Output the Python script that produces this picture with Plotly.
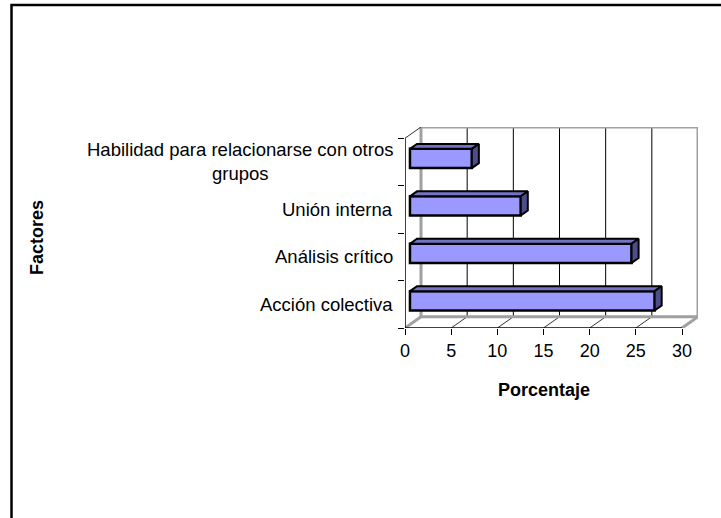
import plotly.graph_objects as go

# ---- data ----
categories = ["Acción colectiva", "Análisis crítico", "Unión interna",
              "Habilidad para relacionarse con otros<br>grupos"]
values = [26.5, 24.0, 12.0, 6.7]
x_ticks = [0, 5, 10, 15, 20, 25, 30]
x_title = "Porcentaje"
y_title = "Factores"

# ---- 3D look parameters (axis units) ----
DX, DY = 1.733, 0.237          # depth vector of the chart box
F0, F1 = 0.31, 0.75            # bar front / back position in depth
HALF = 0.203                   # half bar thickness
XMAX = 30

FONT = "Arial, Liberation Sans, sans-serif"
W, H = 721, 518
L, T = 405, 127
PW, PH = 293, 201
R, B = W - L - PW, H - T - PH


def px(p):
    return (p - L) / PW


def py(p):
    return (T + PH - p) / PH


cy = [i + 0.5 for i in range(len(categories))]

fig = go.Figure()

# front faces of bars
fig.add_trace(go.Bar(
    orientation="h",
    x=values,
    y=[c + F0 * DY for c in cy],
    base=[F0 * DX] * len(values),
    width=2 * HALF,
    marker=dict(color="#9999FF", line=dict(color="black", width=2.5)),
    hoverinfo="skip", showlegend=False,
))

# top and side faces
for v, c in zip(values, cy):
    top_y0 = c + HALF + F0 * DY
    top_y1 = c + HALF + F1 * DY
    fig.add_trace(go.Scatter(
        x=[F0 * DX, v + F0 * DX, v + F1 * DX, F1 * DX, F0 * DX],
        y=[top_y0, top_y0, top_y1, top_y1, top_y0],
        mode="lines", fill="toself", fillcolor="#7373C6",
        line=dict(color="black", width=2), hoverinfo="skip", showlegend=False))
    bot0 = c - HALF + F0 * DY
    bot1 = c - HALF + F1 * DY
    fig.add_trace(go.Scatter(
        x=[v + F0 * DX, v + F0 * DX, v + F1 * DX, v + F1 * DX, v + F0 * DX],
        y=[bot0, top_y0, top_y1, bot1, bot0],
        mode="lines", fill="toself", fillcolor="#4D4D8C",
        line=dict(color="black", width=2), hoverinfo="skip", showlegend=False))

shapes = []
GRAY = "#A0A0A0"
# back wall gridlines
for k in x_ticks[1:-1]:
    shapes.append(dict(type="line", xref="x", yref="y", x0=k + DX, x1=k + DX,
                       y0=DY, y1=len(categories) + DY,
                       line=dict(color="black", width=1), layer="below"))
    shapes.append(dict(type="line", xref="x", yref="y", x0=k, x1=k + DX,
                       y0=0, y1=DY, line=dict(color="#333333", width=1), layer="below"))
# back wall frame
shapes.append(dict(type="rect", xref="x", yref="y", x0=DX, x1=XMAX + DX,
                   y0=DY, y1=len(categories) + DY,
                   line=dict(color=GRAY, width=3), layer="below"))
# floor side diagonals
shapes.append(dict(type="line", xref="x", yref="y", x0=0, x1=DX, y0=0, y1=DY,
                   line=dict(color=GRAY, width=3), layer="below"))
shapes.append(dict(type="line", xref="x", yref="y", x0=XMAX, x1=XMAX + DX, y0=0, y1=DY,
                   line=dict(color=GRAY, width=3), layer="below"))
# front axes
shapes.append(dict(type="line", xref="x", yref="y", x0=0, x1=XMAX, y0=0, y1=0,
                   line=dict(color="black", width=1.5)))
shapes.append(dict(type="line", xref="x", yref="y", x0=0, x1=0, y0=0, y1=len(categories),
                   line=dict(color="black", width=1.5)))
shapes.append(dict(type="line", xref="x", yref="y", x0=0, x1=DX,
                   y0=len(categories), y1=len(categories) + DY,
                   line=dict(color="#333333", width=1)))
# outer chart border
shapes.append(dict(type="rect", xref="paper", yref="paper",
                   x0=px(11.5), x1=px(760), y0=py(5), y1=py(560),
                   line=dict(color="black", width=2.5)))

annotations = []
for c, lab in zip(cy, categories):
    annotations.append(dict(xref="paper", yref="y", x=px(395), y=c, text=lab,
                            xanchor="right", yanchor="middle", align="center",
                            showarrow=False, font=dict(family=FONT, size=18.5, color="black")))
annotations.append(dict(xref="paper", yref="paper", x=px(543.5), y=py(390), text=f"<b>{x_title}</b>",
                        showarrow=False, xanchor="center", yanchor="middle",
                        font=dict(family=FONT, size=18, color="black")))
annotations.append(dict(xref="paper", yref="paper", x=px(37), y=py(238), text=f"<b>{y_title}</b>",
                        showarrow=False, xanchor="center", yanchor="middle", textangle=-90,
                        font=dict(family=FONT, size=18, color="black")))

fig.update_layout(
    width=W, height=H,
    margin=dict(l=L, r=R, t=T, b=B, pad=0),
    paper_bgcolor="white", plot_bgcolor="white",
    barmode="overlay",
    shapes=shapes, annotations=annotations,
    xaxis=dict(range=[0, XMAX + DX], tickvals=x_ticks, ticktext=[str(t) for t in x_ticks],
               ticks="outside", ticklen=6, tickcolor="black", tickwidth=1,
               showgrid=False, zeroline=False, showline=False,
               tickfont=dict(family=FONT, size=18, color="black")),
    yaxis=dict(range=[0, len(categories) + DY], tickvals=list(range(len(categories) + 1)),
               ticktext=[""] * (len(categories) + 1),
               ticks="outside", ticklen=6, tickcolor="black", tickwidth=1,
               showgrid=False, zeroline=False, showline=False),
    showlegend=False,
)

fig.write_html("out.html", config={"displayModeBar": False},
               post_script="document.body.style.margin='0px';document.body.style.overflow='hidden';")
